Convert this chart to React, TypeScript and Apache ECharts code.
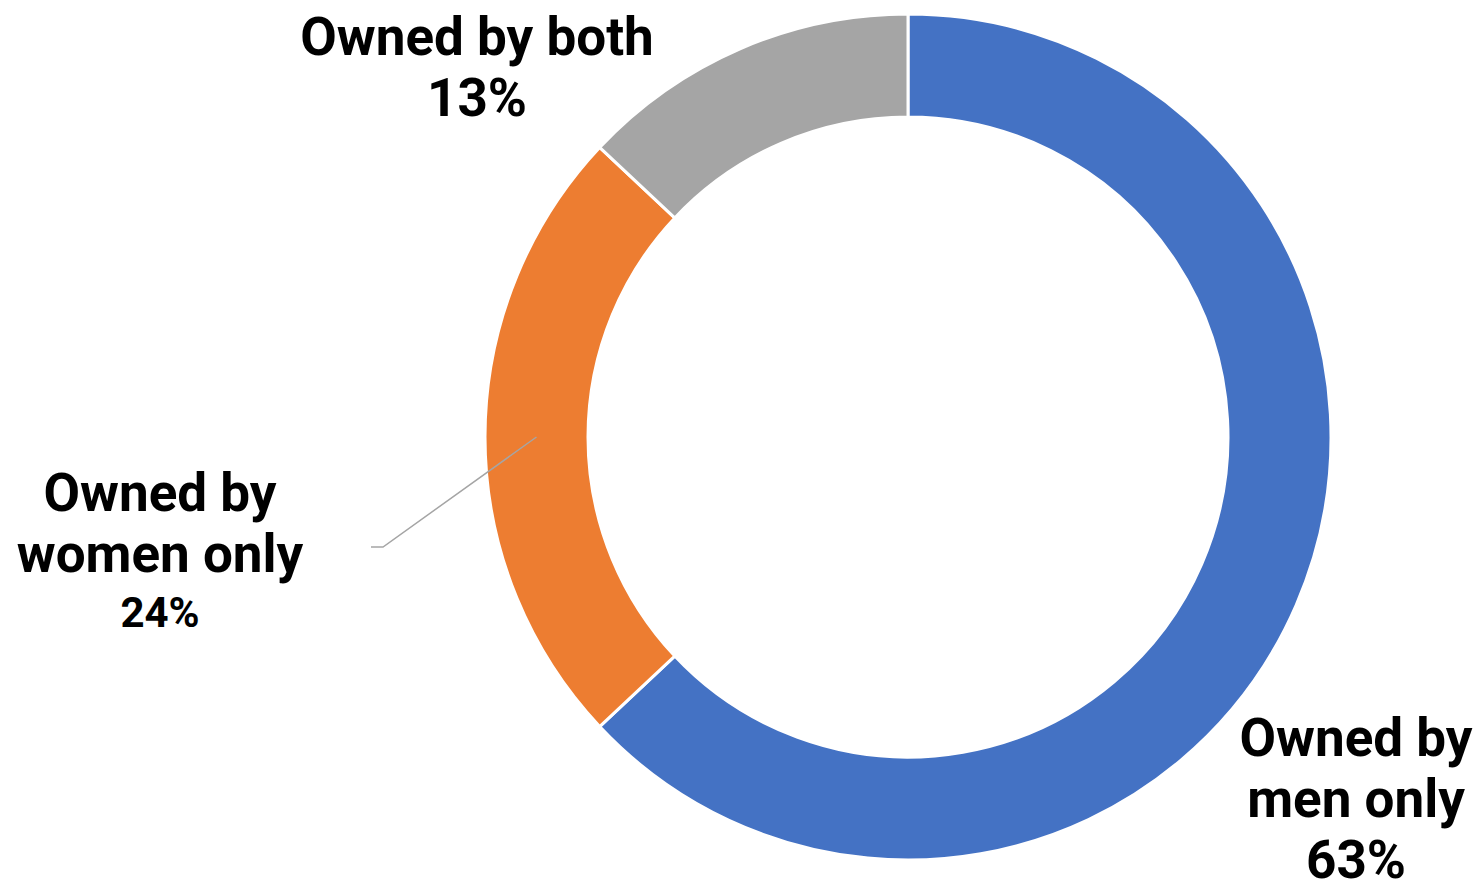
import React, { useEffect, useRef } from "react";
import * as echarts from "echarts";

const categories = ["Owned by\nmen only", "Owned by\nwomen only", "Owned by both"];
const values = [63, 24, 13];
const colors = ["#4472C4", "#ED7D31", "#A5A5A5"];

const CX = 908;
const CY = 437;
const R_OUT = 423;
const R_IN = 320;

// label block centers (layout)
const labelPos = [
  { x: 1356, y: 799 },
  { x: 160, y: 551 },
  { x: 477, y: 67 },
];

export default function App() {
  const ref = useRef<HTMLDivElement>(null);
  useEffect(() => {
    document.body.style.margin = "0";
    const chart = echarts.init(ref.current!, null, { renderer: "svg" });
    const total = values.reduce((a, b) => a + b, 0);
    // women slice mid angle (clockwise from top)
    let before = 0;
    for (let i = 0; i < 1; i++) before += values[i];
    const midFrac = (before + values[1] / 2) / total;
    const ang = midFrac * Math.PI * 2;
    const rMid = (R_OUT + R_IN) / 2;
    const sx = CX + rMid * Math.sin(ang);
    const sy = CY - rMid * Math.cos(ang);

    chart.setOption({
      animation: false,
      backgroundColor: "#ffffff",
      graphic: [
        {
          type: "polyline",
          z: 100,
          shape: { points: [[sx, sy], [383, 547], [371, 547]] },
          style: { stroke: "#A5A5A5", lineWidth: 1.5, fill: "none" },
        },
      ],
      series: [
        {
          type: "pie",
          center: [CX, CY],
          radius: [R_IN, R_OUT],
          startAngle: 90,
          clockwise: true,
          silent: true,
          itemStyle: { borderColor: "#ffffff", borderWidth: 3 },
          labelLine: { show: false },
          label: {
            show: true,
            position: "outside",
            overflow: "none",
            width: 500,
            formatter: (p: any) =>
              p.dataIndex === 1
                ? `{n|${p.name}}\n{s|${p.value}%}`
                : `{n|${p.name}}\n{n|${p.value}%}`,
            rich: {
              n: {
                fontFamily: "Roboto",
                fontWeight: "bold",
                fontSize: 53,
                lineHeight: 61,
                color: "#000000",
                align: "center",
              },
              s: {
                fontFamily: "Roboto",
                fontWeight: "bold",
                fontSize: 42,
                lineHeight: 56,
                color: "#000000",
                align: "center",
              },
            },
          },
          labelLayout: (params: any) => {
            const p = labelPos[params.dataIndex];
            return { x: p.x, y: p.y, align: "center", verticalAlign: "middle" };
          },
          data: categories.map((c, i) => ({
            name: c,
            value: values[i],
            itemStyle: { color: colors[i] },
          })),
        },
      ],
    });
    return () => chart.dispose();
  }, []);
  return <div ref={ref} style={{ width: 1481, height: 883 }} />;
}
